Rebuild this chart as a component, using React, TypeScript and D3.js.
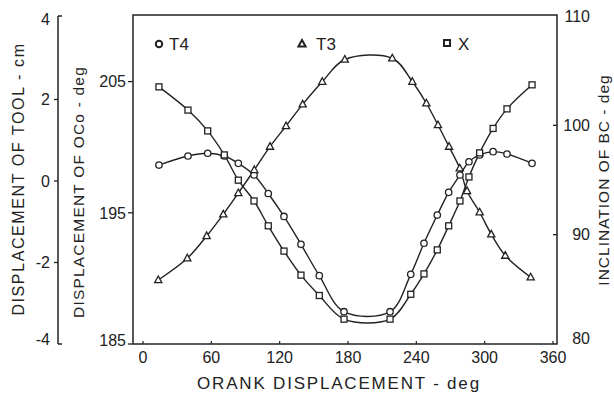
import * as d3 from "d3";

// crank angles (deg)
const anglesTX = [14.0, 39.5, 56.8, 71.4, 83.7, 97.5, 110.0, 123.8, 138.7, 154.8, 176.5, 216.9, 235.1, 246.7, 258.4, 268.4, 278.3, 286.2, 295.6, 307.4, 319.6, 341.6];
const anglesT3 = [13.4, 38.9, 55.9, 70.5, 83.7, 97.7, 111.5, 125.6, 140.2, 157.4, 177.2, 218.9, 236.5, 248.8, 259.0, 268.7, 278.1, 284.5, 295.6, 305.8, 318.1, 340.4];

// T4 -> displacement of OCo (deg)
const t4Values = [198.64, 199.33, 199.54, 199.33, 198.77, 197.88, 196.47, 194.72, 192.6, 190.21, 187.46, 187.46, 190.31, 192.68, 194.83, 196.56, 197.88, 198.89, 199.41, 199.66, 199.48, 198.77];
// T3 -> inclination of BC (deg)
const t3Values = [85.85, 87.84, 89.88, 91.86, 93.81, 95.92, 98.05, 99.94, 101.92, 103.99, 106.02, 106.13, 103.99, 102.02, 100.03, 98.05, 96.07, 94.0, 92.05, 90.03, 88.08, 86.1];
// X -> displacement of tool (cm)
const xValues = [2.31, 1.74, 1.23, 0.64, 0.02, -0.49, -1.1, -1.72, -2.31, -2.81, -3.39, -3.39, -2.78, -2.28, -1.69, -1.1, -0.49, 0.1, 0.69, 1.29, 1.77, 2.36];

const xTicks = [0, 60, 120, 180, 240, 300, 360];
const toolTicks = [4, 2, 0, -2, -4];
const ocoTicks = [205, 195, 185];
const bcTicks = [110, 100, 90, 80];

const FONT = "'Liberation Sans', Arial, sans-serif";
const INK = "#222";

const left = 133;
const right = 557;
const top = 15;
const bottom = 344;

export default function App() {
  const xScale = d3.scaleLinear().domain([0, 360]).range([143, 553]);
  const yTool = d3.scaleLinear().domain([-4, 4]).range([bottom, 18]);
  const yOco = d3.scaleLinear().domain([185, 210]).range([bottom, 16]);
  const yBc = d3.scaleLinear().domain([80, 110]).range([bottom, 16]);

  const makeLine = (ys: d3.ScaleLinear<number, number>) =>
    d3
      .line<[number, number]>()
      .x((d) => xScale(d[0]))
      .y((d) => ys(d[1]))
      .curve(d3.curveCatmullRom.alpha(0.5));

  const t4 = anglesTX.map((a, i) => [a, t4Values[i]] as [number, number]);
  const t3 = anglesT3.map((a, i) => [a, t3Values[i]] as [number, number]);
  const xs = anglesTX.map((a, i) => [a, xValues[i]] as [number, number]);

  const circle = (cx: number, cy: number, key: string, sw = 1.3) => (
    <circle key={key} cx={cx} cy={cy} r={3.2} fill="white" stroke={INK} strokeWidth={sw} />
  );
  const square = (cx: number, cy: number, key: string, sw = 1.3) => (
    <rect key={key} x={cx - 3} y={cy - 3} width={6} height={6} fill="white" stroke={INK} strokeWidth={sw} />
  );
  const triangle = (cx: number, cy: number, key: string, sw = 1.3) => (
    <path key={key} d={`M${cx},${cy - 4}L${cx + 3.6},${cy + 2.6}L${cx - 3.6},${cy + 2.6}Z`} fill="white" stroke={INK} strokeWidth={sw} />
  );

  return (
    <div style={{ position: "fixed", left: 0, top: 0 }}>
      <svg width={614} height={396} style={{ display: "block", background: "white" }} fontFamily={FONT}>
        {/* frame */}
        <rect x={left} y={top} width={right - left} height={bottom - top} fill="none" stroke={INK} strokeWidth={1.5} />

        {/* x axis ticks + labels */}
        {xTicks.map((t) => (
          <g key={`xt${t}`}>
            <line x1={xScale(t)} x2={xScale(t)} y1={bottom} y2={bottom - 3} stroke={INK} strokeWidth={1.2} />
            <text x={xScale(t)} y={363} fontSize={16} textAnchor="middle" fill={INK}>{t}</text>
          </g>
        ))}
        <text x={339} y={389} fontSize={17} letterSpacing={1.8} textAnchor="middle" fill={INK}>
          ORANK DISPLACEMENT - deg
        </text>

        {/* tool axis (outer left) */}
        <line x1={58} x2={58} y1={16} y2={344} stroke={INK} strokeWidth={1.5} />
        <line x1={58} x2={62} y1={16} y2={16} stroke={INK} strokeWidth={1.5} />
        <line x1={58} x2={62} y1={344} y2={344} stroke={INK} strokeWidth={1.5} />
        {toolTicks.map((t) => (
          <g key={`tt${t}`}>
            {Math.abs(t) < 4 && (
              <line x1={54} x2={58} y1={yTool(t)} y2={yTool(t)} stroke={INK} strokeWidth={1.3} />
            )}
            <text
              x={50}
              y={t === 4 ? 19 : t === -4 ? 339 : yTool(t)}
              dy="0.36em"
              fontSize={16}
              textAnchor="end"
              fill={INK}
            >
              {t}
            </text>
          </g>
        ))}
        <text transform="translate(24,179) rotate(-90)" fontSize={16} letterSpacing={1.6} textAnchor="middle" fill={INK}>
          DISPLACEMENT OF TOOL - cm
        </text>

        {/* OCo axis (inner left) */}
        {ocoTicks.map((t) => (
          <g key={`ot${t}`}>
            <line x1={128} x2={left} y1={yOco(t)} y2={yOco(t)} stroke={INK} strokeWidth={1.3} />
            <text x={126} y={t === 185 ? 340 : yOco(t)} dy="0.36em" fontSize={16} textAnchor="end" fill={INK}>
              {t}
            </text>
          </g>
        ))}
        <text transform="translate(84,192) rotate(-90)" fontSize={15.5} letterSpacing={1.2} textAnchor="middle" fill={INK}>
          DISPLACEMENT OF OCo - deg
        </text>

        {/* BC axis (right) */}
        {bcTicks.map((t) => (
          <g key={`bt${t}`}>
            {t !== 110 && t !== 80 && (
              <line x1={right - 4} x2={right} y1={yBc(t)} y2={yBc(t)} stroke={INK} strokeWidth={1.3} />
            )}
            <text
              x={590}
              y={t === 110 ? 16 : t === 80 ? 338 : yBc(t)}
              dy="0.36em"
              fontSize={16}
              textAnchor="end"
              fill={INK}
            >
              {t}
            </text>
          </g>
        ))}
        <text transform="translate(609,180) rotate(-90)" fontSize={15.5} letterSpacing={1} textAnchor="middle" fill={INK}>
          INCLINATION OF BC - deg
        </text>

        {/* series */}
        <path d={makeLine(yOco)(t4) ?? ""} fill="none" stroke={INK} strokeWidth={1.4} />
        <path d={makeLine(yBc)(t3) ?? ""} fill="none" stroke={INK} strokeWidth={1.4} />
        <path d={makeLine(yTool)(xs) ?? ""} fill="none" stroke={INK} strokeWidth={1.4} />
        {t4.map((d, i) => circle(xScale(d[0]), yOco(d[1]), `c${i}`))}
        {t3.map((d, i) => triangle(xScale(d[0]), yBc(d[1]), `t${i}`))}
        {xs.map((d, i) => square(xScale(d[0]), yTool(d[1]), `s${i}`))}

        {/* legend */}
        {circle(159, 44, "lc", 2)}
        <text x={169} y={50} fontSize={17} fill={INK}>T4</text>
        {triangle(302, 44, "lt", 2)}
        <text x={316} y={50} fontSize={17} fill={INK}>T3</text>
        {square(447, 43, "ls", 2)}
        <text x={458} y={50} fontSize={17} fill={INK}>X</text>
      </svg>
    </div>
  );
}
